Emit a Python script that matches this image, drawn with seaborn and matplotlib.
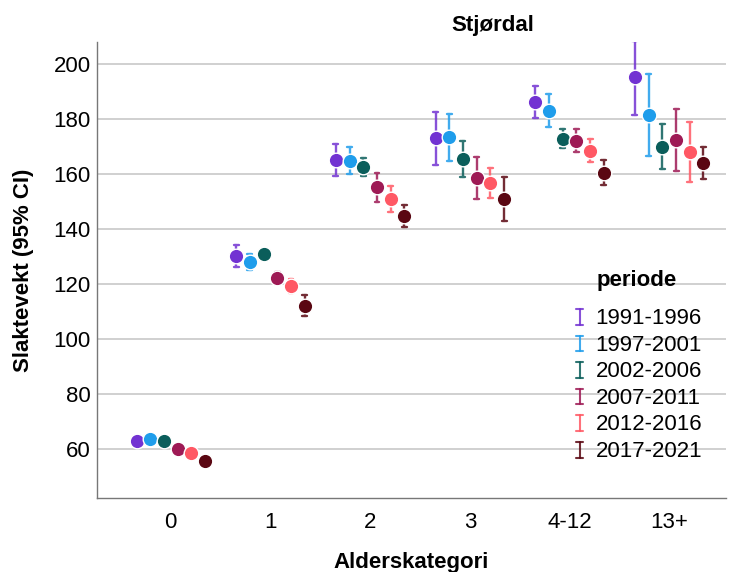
import pandas as pd
import numpy as np
import matplotlib
matplotlib.use("Agg")
import matplotlib.pyplot as plt
from matplotlib.lines import Line2D
from matplotlib.legend_handler import HandlerBase
import seaborn as sns

# categories and periods
alder = ["0", "1", "2", "3", "4-12", "13+"]
perioder = ["1991-1996", "1997-2001", "2002-2006", "2007-2011", "2012-2016", "2017-2021"]
farger = ["#7232D2", "#1F9DEB", "#0B5E5B", "#9E1A55", "#FF5864", "#5A0712"]

# mean slaughter weight and 95% CI per period
snitt_9196 = [63.0, 130.2, 165.1, 173.0, 186.3, 195.4]
lav_9196 = [62.2, 126.2, 159.3, 163.3, 180.5, 181.5]
hoy_9196 = [63.8, 134.2, 171.0, 182.7, 192.0, 208.2]

snitt_9701 = [63.6, 127.9, 164.7, 173.3, 183.0, 181.5]
lav_9701 = [62.8, 125.1, 159.9, 164.8, 177.1, 166.7]
hoy_9701 = [64.4, 130.9, 169.7, 181.7, 189.0, 196.3]

snitt_0206 = [63.0, 130.8, 162.7, 165.6, 172.8, 169.9]
lav_0206 = [62.2, 129.3, 159.4, 158.9, 169.6, 161.7]
hoy_0206 = [63.8, 132.3, 165.7, 172.0, 176.3, 178.1]

snitt_0711 = [60.1, 122.2, 155.2, 158.5, 172.1, 172.4]
lav_0711 = [59.2, 120.2, 149.9, 151.0, 167.9, 161.2]
hoy_0711 = [61.0, 124.2, 160.2, 166.0, 176.3, 183.5]

snitt_1216 = [58.4, 119.3, 150.8, 156.6, 168.5, 168.1]
lav_1216 = [57.4, 116.8, 146.1, 151.2, 164.3, 157.2]
hoy_1216 = [59.4, 121.8, 155.6, 162.1, 172.7, 179.0]

snitt_1721 = [55.6, 112.1, 144.8, 150.9, 160.5, 163.9]
lav_1721 = [54.6, 108.5, 140.8, 142.9, 156.1, 158.2]
hoy_1721 = [56.6, 115.9, 148.8, 158.9, 165.0, 169.7]

snitt = [snitt_9196, snitt_9701, snitt_0206, snitt_0711, snitt_1216, snitt_1721]
lav = [lav_9196, lav_9701, lav_0206, lav_0711, lav_1216, lav_1721]
hoy = [hoy_9196, hoy_9701, hoy_0206, hoy_0711, hoy_1216, hoy_1721]

# long table: lower, mean, upper per group -> median gives mean, min/max gives CI
rows = []
for p, m_list, l_list, h_list in zip(perioder, snitt, lav, hoy):
    for a, m, l, h in zip(alder, m_list, l_list, h_list):
        for v in (l, m, h):
            rows.append({"Alderskategori": a, "periode": p, "Slaktevekt": v})
df = pd.DataFrame(rows)

sns.set_style("white")
plt.rcParams["font.family"] = ["Liberation Sans", "DejaVu Sans"]
plt.rcParams["text.color"] = "black"
plt.rcParams["axes.labelcolor"] = "black"
plt.rcParams["xtick.color"] = "black"
plt.rcParams["ytick.color"] = "black"

fig = plt.figure(figsize=(7.4, 5.72), dpi=100)
ax = fig.add_axes([0.1311, 0.1294, 0.8500, 0.7977])

sns.pointplot(data=df, x="Alderskategori", y="Slaktevekt", hue="periode",
              order=alder, hue_order=perioder, palette=farger,
              estimator="median", errorbar=lambda v: (v.min(), v.max()),
              dodge=0.687, linestyle="none", markers="o", capsize=0.05,
              err_kws={"linewidth": 1.7, "alpha": 0.85, "zorder": 3},
              markersize=10.5, markeredgecolor="white", markeredgewidth=1,
              zorder=4, legend=False, ax=ax)

ax.set_xlim(-0.74, 5.57)
ax.set_ylim(42.2, 208.1)
ax.set_yticks([60, 80, 100, 120, 140, 160, 180, 200])
ax.yaxis.grid(True, color="#c8c8c8", linewidth=1.2)
ax.xaxis.grid(False)
ax.set_axisbelow(True)
for s in ["top", "right"]:
    ax.spines[s].set_visible(False)
for s in ["left", "bottom"]:
    ax.spines[s].set_color("#777777")
    ax.spines[s].set_linewidth(1.0)
ax.tick_params(axis="both", length=0, labelsize=16)
ax.tick_params(axis="x", pad=10)
ax.tick_params(axis="y", pad=4.5)

ax.set_xlabel("Alderskategori", fontsize=16, fontweight="bold", labelpad=14)
ax.set_ylabel("Slaktevekt (95% CI)", fontsize=16, fontweight="bold", labelpad=14)
fig.text(493 / 740, 1 - 25.5 / 572, "Stjørdal", fontsize=16, fontweight="bold",
         ha="center", va="center")


# legend key shaped like an error bar (I)
class HandlerI(HandlerBase):
    def create_artists(self, legend, orig_handle, xdescent, ydescent,
                       width, height, fontsize, trans):
        c = orig_handle.get_color()
        xm = width / 2 - xdescent
        top = height * 0.95
        bot = -height * 0.05
        cap = 2.5
        kw = dict(color=c, linewidth=1.5, alpha=0.85, transform=trans)
        return [Line2D([xm, xm], [bot, top], **kw),
                Line2D([xm - cap, xm + cap], [top, top], **kw),
                Line2D([xm - cap, xm + cap], [bot, bot], **kw)]


handles = [Line2D([], [], color=c) for c in farger]
fig.text(597 / 740, 1 - 280 / 572, "periode", fontsize=16, fontweight="bold",
         ha="left", va="center")
fig.legend(handles, perioder, loc="upper left", bbox_to_anchor=(573 / 740, 1 - 308 / 572),
           frameon=False, fontsize=16, handlelength=0.6, handletextpad=0.42,
           labelspacing=0.25, borderpad=0, borderaxespad=0,
           handler_map={Line2D: HandlerI()})

fig.savefig("out.png", dpi=100)
